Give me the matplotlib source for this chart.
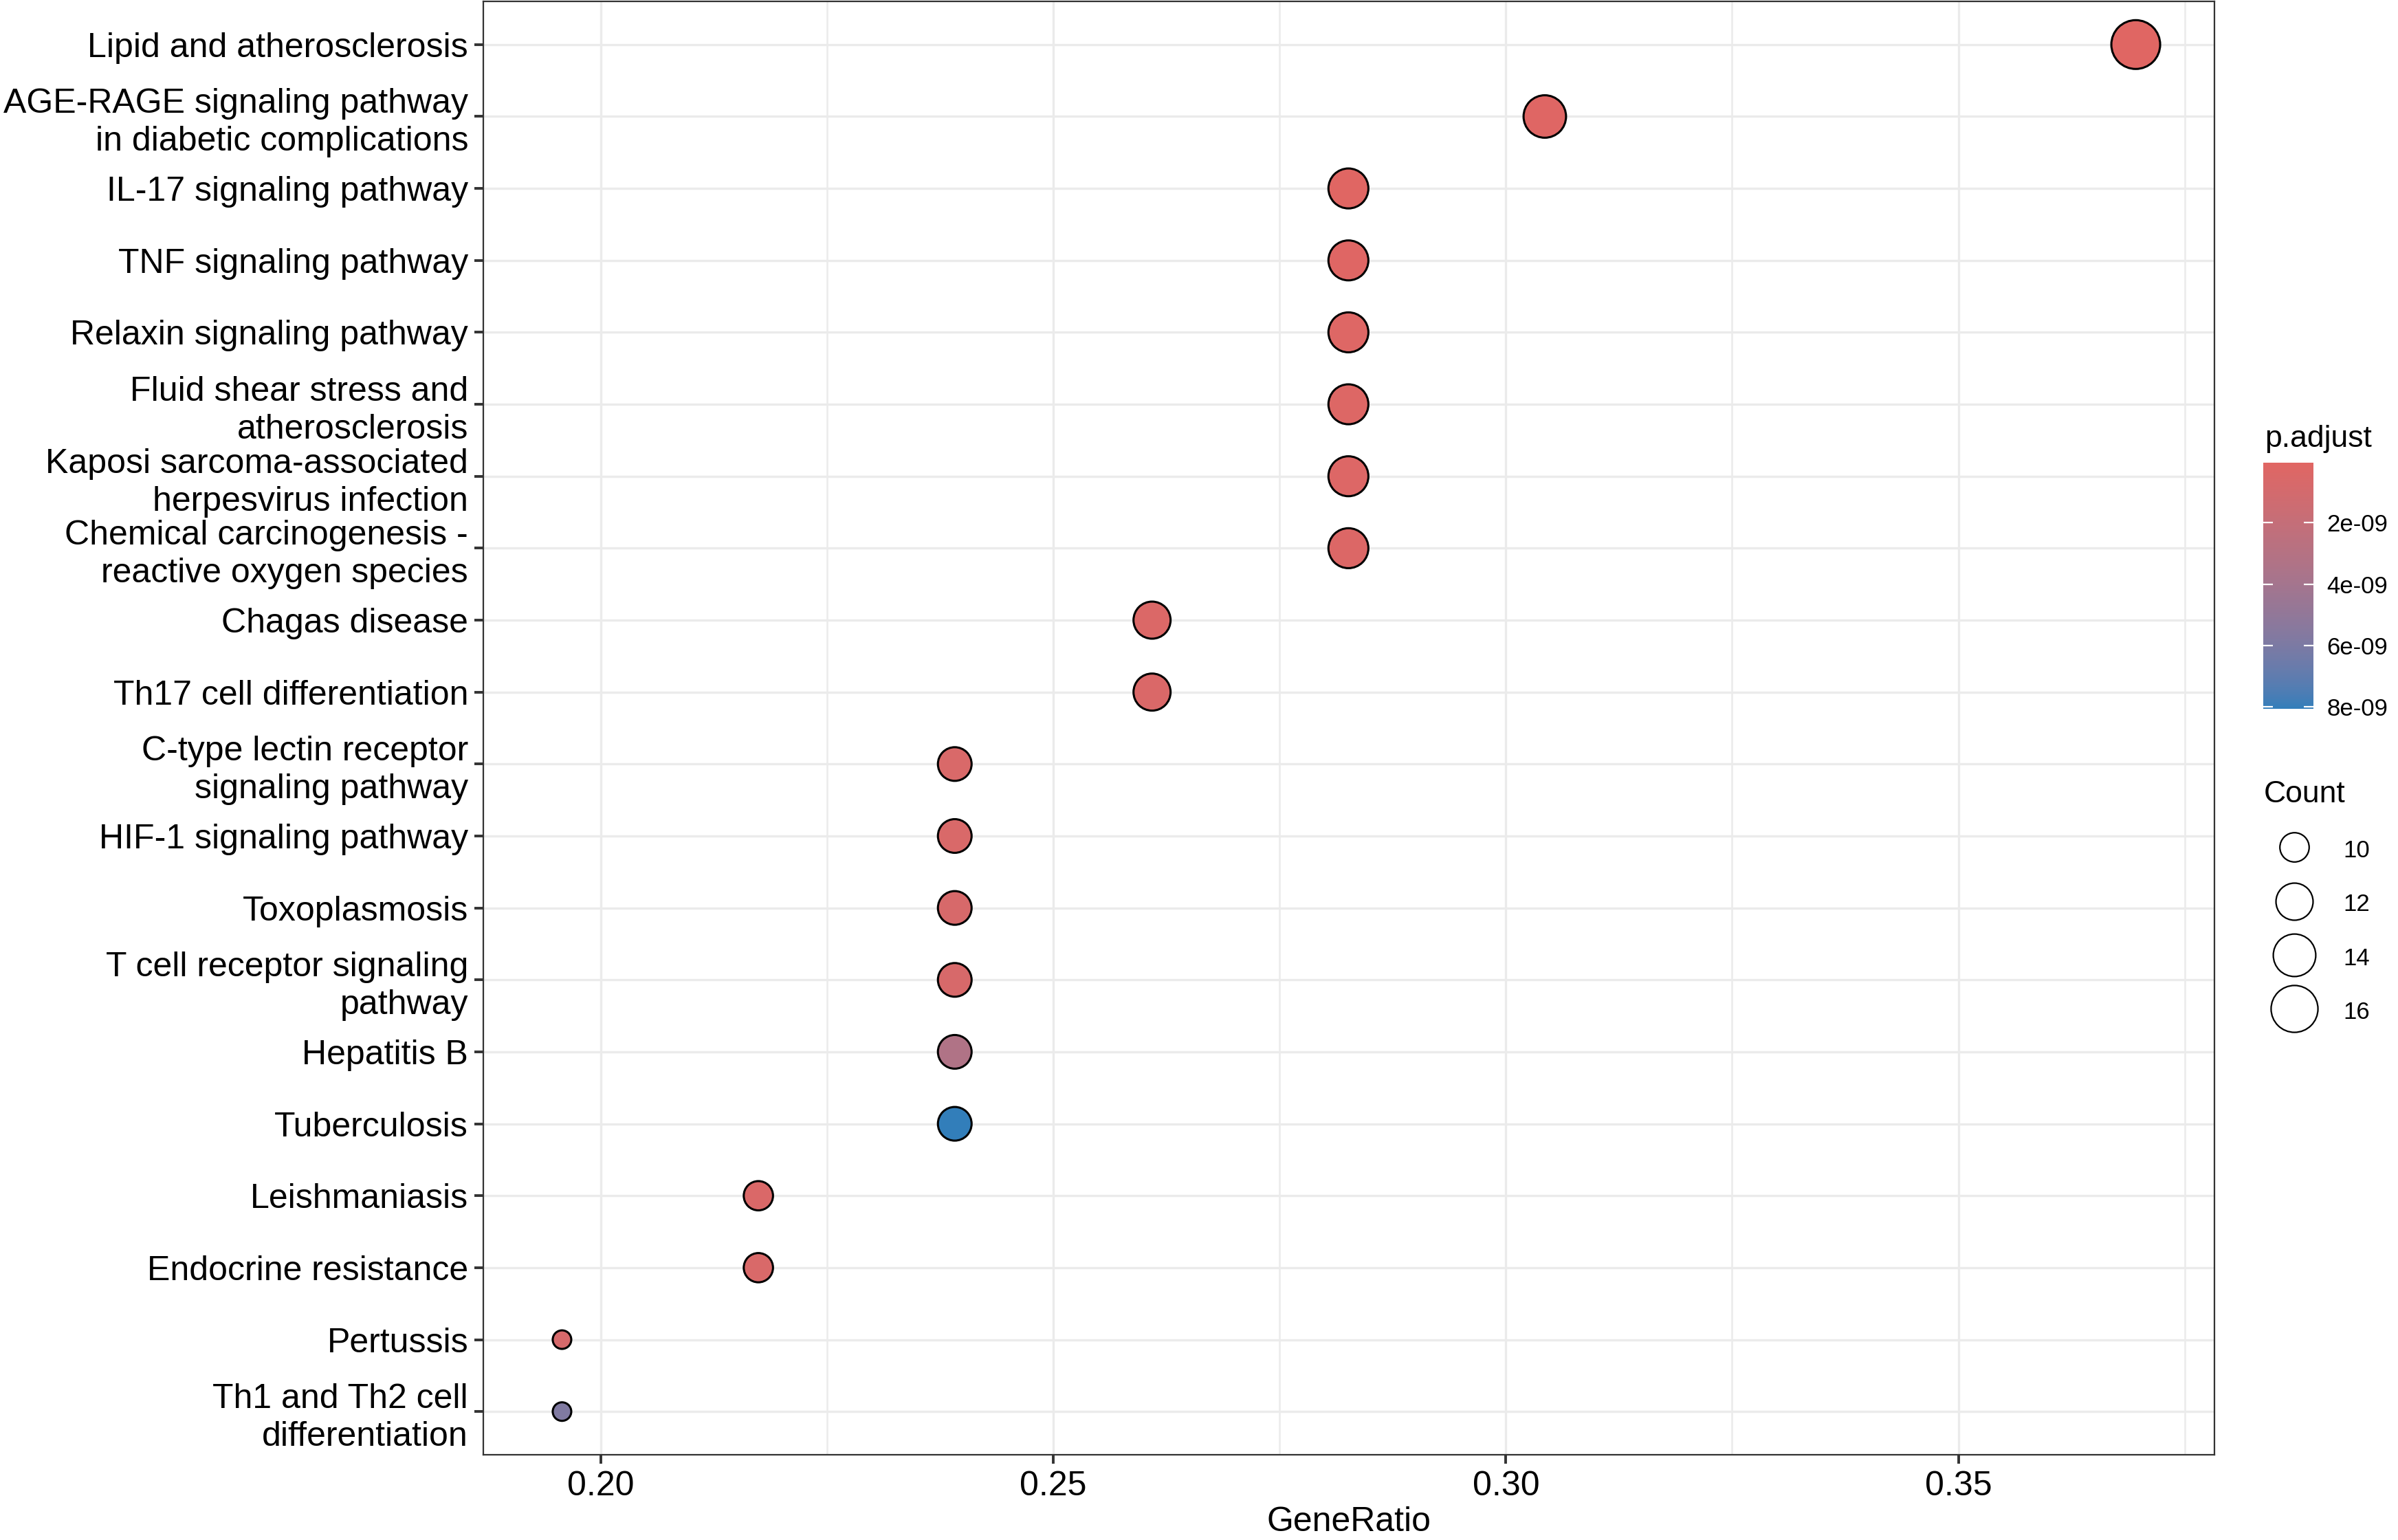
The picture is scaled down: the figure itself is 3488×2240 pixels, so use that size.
import numpy as np
import matplotlib
matplotlib.use("Agg")
import matplotlib.pyplot as plt
import matplotlib.colors as mcolors
from matplotlib.lines import Line2D

plt.rcParams['font.family'] = ['Liberation Sans', 'DejaVu Sans']

# Pathways, top to bottom
pathways = [
    "Lipid and atherosclerosis",
    "AGE-RAGE signaling pathway\nin diabetic complications",
    "IL-17 signaling pathway",
    "TNF signaling pathway",
    "Relaxin signaling pathway",
    "Fluid shear stress and\natherosclerosis",
    "Kaposi sarcoma-associated\nherpesvirus infection",
    "Chemical carcinogenesis -\nreactive oxygen species",
    "Chagas disease",
    "Th17 cell differentiation",
    "C-type lectin receptor\nsignaling pathway",
    "HIF-1 signaling pathway",
    "Toxoplasmosis",
    "T cell receptor signaling\npathway",
    "Hepatitis B",
    "Tuberculosis",
    "Leishmaniasis",
    "Endocrine resistance",
    "Pertussis",
    "Th1 and Th2 cell\ndifferentiation",
]
gene_ratio = [0.3696, 0.3043, 0.2826, 0.2826, 0.2826, 0.2826, 0.2826, 0.2826,
              0.2609, 0.2609, 0.2391, 0.2391, 0.2391, 0.2391, 0.2391, 0.2391,
              0.2174, 0.2174, 0.1957, 0.1957]
count = [17, 14, 13, 13, 13, 13, 13, 13, 12, 12, 11, 11, 11, 11, 11, 11,
         10, 10, 9, 9]
p_adjust = [4e-11, 1.5e-10, 1.0e-10, 1.2e-10, 2.0e-10, 2.5e-10, 3.0e-10, 3.5e-10,
            4.0e-10, 5.0e-10, 6.0e-10, 6.0e-10, 7.0e-10, 7.0e-10, 3.3e-09, 8.07e-09,
            5.0e-10, 6.0e-10, 8.0e-10, 5.8e-09]

cbar_ticks = [2e-09, 4e-09, 6e-09, 8e-09]
cbar_ticklabels = ["2e-09", "4e-09", "6e-09", "8e-09"]
size_breaks = [10, 12, 14, 16]
x_ticks = [0.20, 0.25, 0.30, 0.35]
x_minor = [0.225, 0.275, 0.325, 0.375]

LOW_COL = "#e06663"
HIGH_COL = "#327eba"


# ggplot-style gradient: interpolate in CIE Lab
WHITE = np.array([0.95047, 1.0, 1.08883])
M = np.array([[0.4124, 0.3576, 0.1805],
              [0.2126, 0.7152, 0.0722],
              [0.0193, 0.1192, 0.9505]])


def to_lab(hexcol):
    rgb = np.array(mcolors.to_rgb(hexcol))
    lin = np.where(rgb <= 0.04045, rgb / 12.92, ((rgb + 0.055) / 1.055) ** 2.4)
    t = (M @ lin) / WHITE
    d = 6 / 29
    f = np.where(t > d ** 3, np.cbrt(t), t / (3 * d * d) + 4 / 29)
    return np.array([116 * f[1] - 16, 500 * (f[0] - f[1]), 200 * (f[1] - f[2])])


def from_lab(lab):
    L, a, b = lab
    fy = (L + 16) / 116
    f = np.array([fy + a / 500, fy, fy - b / 200])
    d = 6 / 29
    t = np.where(f > d, f ** 3, 3 * d * d * (f - 4 / 29)) * WHITE
    lin = np.linalg.solve(M, t)
    lin = np.clip(lin, 0, 1)
    rgb = np.where(lin <= 0.0031308, 12.92 * lin, 1.055 * lin ** (1 / 2.4) - 0.055)
    return np.clip(rgb, 0, 1)


lab_lo, lab_hi = to_lab(LOW_COL), to_lab(HIGH_COL)
cmap = mcolors.ListedColormap([from_lab(lab_lo + (lab_hi - lab_lo) * t)
                               for t in np.linspace(0, 1, 256)])

# size scale like scale_size(range = c(3, 8)): diameter ~ sqrt of rescaled value
D_MIN, D_MAX = 27 * 72 / 200, 71 * 72 / 200
c_min, c_max = min(count), max(count)


def diam(c):
    return D_MIN + (D_MAX - D_MIN) * np.sqrt((np.asarray(c) - c_min) / (c_max - c_min))


W, H, DPI = 3488, 2240, 200
fig = plt.figure(figsize=(W / DPI, H / DPI), dpi=DPI)
ax = fig.add_axes([703 / W, 1 - 2116 / H, (3221 - 703) / W, (2116 - 2) / H])

y = np.arange(len(pathways))
norm = mcolors.Normalize(vmin=min(p_adjust), vmax=max(p_adjust))
sc = ax.scatter(gene_ratio, y, s=diam(count) ** 2, c=p_adjust, cmap=cmap, norm=norm,
                edgecolors='black', linewidths=1.1, zorder=3)

xr = max(gene_ratio) - min(gene_ratio)
ax.set_xlim(min(gene_ratio) - 0.05 * xr, max(gene_ratio) + 0.05 * xr)
ax.set_ylim(len(pathways) - 0.4, -0.6)
ax.set_yticks(y)
ax.set_yticklabels(pathways, fontsize=18, color='black', linespacing=1.25)
ax.set_xticks(x_ticks)
ax.set_xticklabels([f"{v:.2f}" for v in x_ticks], fontsize=18, color='black')
ax.set_xticks(x_minor, minor=True)
ax.tick_params(which='major', length=4.7, width=1.4, color='#333333')
ax.tick_params(axis='y', pad=3.2)
ax.tick_params(axis='x', pad=3.6)
ax.tick_params(which='minor', length=0)
ax.set_axisbelow(True)
ax.grid(which='major', color='#EBEBEB', linewidth=1.2)
ax.grid(which='minor', axis='x', color='#EBEBEB', linewidth=0.9)
for sp in ax.spines.values():
    sp.set_color('#333333')
    sp.set_linewidth(0.8)
ax.set_xlabel("GeneRatio", fontsize=18, labelpad=2)

# colour bar for p.adjust
cax = fig.add_axes([3292 / W, 1 - 1031 / H, 73 / W, (1031 - 673) / H])
cb = fig.colorbar(sc, cax=cax)
cb.outline.set_visible(False)
cb.set_ticks(cbar_ticks)
cb.set_ticklabels(cbar_ticklabels)
cax.invert_yaxis()
cax.tick_params(which='both', left=True, right=True, labelleft=False, labelright=True,
                direction='in', length=5, width=0.8, color='white', labelsize=12.5, pad=7)
cax.minorticks_off()
fig.text(3294 / W, 1 - 650 / H, "p.adjust", fontsize=16, ha='left', va='baseline')

# size legend for Count
handles = [Line2D([], [], linestyle='none', marker='o', markersize=float(diam(b)),
                  markerfacecolor='none', markeredgecolor='black', markeredgewidth=0.8)
           for b in size_breaks]
leg = ax.legend(handles, [str(b) for b in size_breaks], title="Count",
                loc='upper left', bbox_to_anchor=(3293 / W, 1 - 1135 / H),
                bbox_transform=fig.transFigure, frameon=False, fontsize=12.5,
                title_fontsize=16, alignment='left', borderpad=0, borderaxespad=0,
                handlelength=2.53, handletextpad=0.78, handleheight=1.2,
                labelspacing=1.2)

fig.savefig("out.png", dpi=DPI)
